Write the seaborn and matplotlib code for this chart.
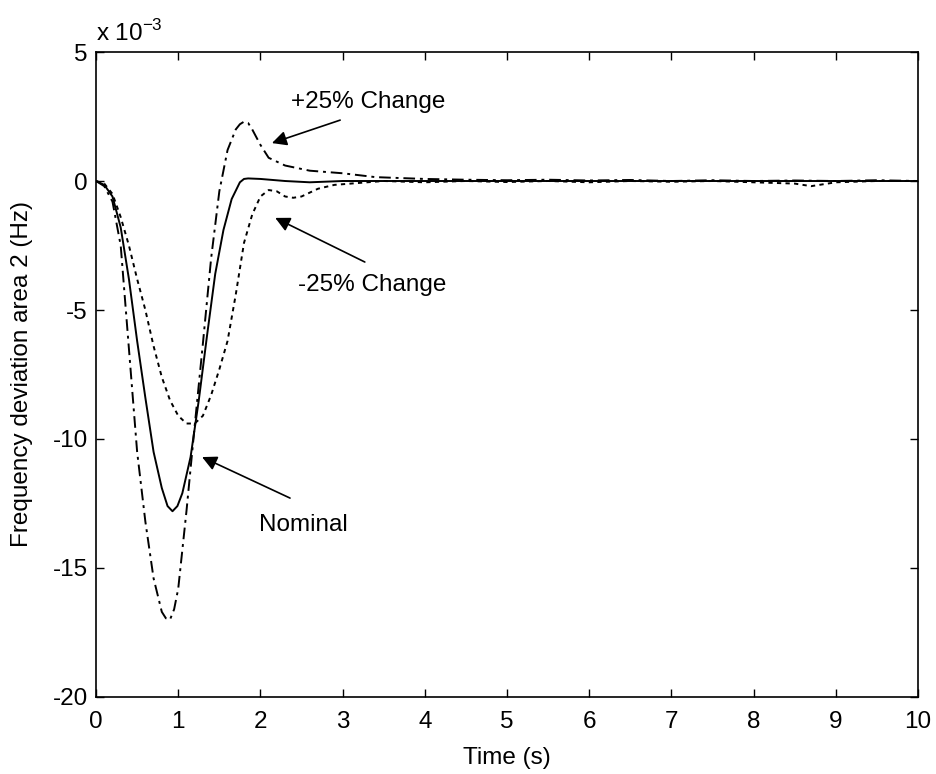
import matplotlib
matplotlib.use("Agg")
import matplotlib.pyplot as plt
from matplotlib.ticker import FuncFormatter
import seaborn as sns

# Time axis (s) and frequency deviation of area 2 (in units of 1e-3 Hz)
t_nominal = [0, 0.1, 0.2, 0.3, 0.4, 0.5, 0.6, 0.7, 0.8, 0.87, 0.93, 0.99, 1.05,
             1.15, 1.25, 1.35, 1.45, 1.55, 1.65, 1.75, 1.8, 1.85, 2.0, 2.3, 2.6,
             3.0, 3.5, 4.0, 5.0, 6.0, 7.0, 8.0, 9.0, 10.0]
y_nominal = [0, -0.15, -0.6, -1.8, -3.8, -6.2, -8.4, -10.5, -11.9, -12.6, -12.8,
             -12.6, -12.1, -10.7, -8.5, -6.0, -3.6, -1.9, -0.7, -0.05, 0.08, 0.1,
             0.08, 0.0, -0.05, 0.0, 0.0, 0.0, 0.0, 0.0, 0.0, 0.0, 0.0, 0.0]

t_plus25 = [0, 0.1, 0.2, 0.3, 0.4, 0.5, 0.6, 0.7, 0.8, 0.85, 0.9, 0.95, 1.0, 1.1,
            1.2, 1.3, 1.4, 1.5, 1.6, 1.7, 1.75, 1.8, 1.85, 1.9, 2.0, 2.1, 2.3,
            2.6, 3.0, 3.4, 4.0, 4.5, 5.0, 5.5, 6.0, 6.5, 7.0, 7.5, 8.0, 8.5,
            9.0, 9.5, 10.0]
y_plus25 = [0, -0.2, -0.8, -2.5, -6.5, -10.5, -13.2, -15.4, -16.7, -16.95, -17.0,
            -16.6, -15.8, -12.8, -9.5, -6.3, -3.0, -0.4, 1.2, 2.0, 2.2, 2.3, 2.25,
            2.0, 1.4, 0.9, 0.6, 0.4, 0.3, 0.15, 0.08, 0.05, 0.03, 0.05, 0.02,
            0.04, 0.0, 0.03, 0.0, 0.02, 0.0, 0.03, 0.0]

t_minus25 = [0, 0.1, 0.2, 0.3, 0.4, 0.5, 0.6, 0.7, 0.8, 0.9, 1.0, 1.1, 1.2, 1.3,
             1.4, 1.5, 1.6, 1.7, 1.8, 1.9, 2.0, 2.1, 2.2, 2.3, 2.4, 2.5, 2.7,
             2.9, 3.1, 3.5, 4.0, 4.5, 5.0, 5.5, 6.0, 6.5, 7.0, 7.5, 8.0, 8.5,
             8.7, 9.0, 9.5, 10.0]
y_minus25 = [0, -0.1, -0.5, -1.4, -2.5, -3.8, -5.0, -6.4, -7.6, -8.5, -9.1, -9.4,
             -9.4, -9.1, -8.3, -7.3, -6.2, -4.4, -2.4, -1.3, -0.6, -0.35, -0.4,
             -0.6, -0.65, -0.6, -0.3, -0.15, -0.1, 0.0, -0.05, 0.0, -0.04, 0.0,
             -0.05, 0.0, -0.03, 0.0, -0.05, -0.1, -0.2, -0.05, 0.0, 0.0]

x_ticks = [0, 1, 2, 3, 4, 5, 6, 7, 8, 9, 10]
y_ticks = [5, 0, -5, -10, -15, -20]

scale = 1e-3  # values above are in mHz

sns.set_theme(style="ticks")
plt.rcParams["font.family"] = ["Liberation Sans", "DejaVu Sans"]
plt.rcParams["mathtext.fontset"] = "custom"
plt.rcParams["mathtext.rm"] = "Liberation Sans"
plt.rcParams["text.color"] = "black"
plt.rcParams["axes.labelcolor"] = "black"

fig = plt.figure(figsize=(9.37, 7.74), dpi=100)
ax = fig.add_axes([0.1025, 0.0995, 0.8772, 0.8333])

lw = 1.4
sns.lineplot(x=t_nominal, y=[v * scale for v in y_nominal], ax=ax,
             color="black", lw=lw, linestyle="-")
sns.lineplot(x=t_plus25, y=[v * scale for v in y_plus25], ax=ax,
             color="black", lw=lw, linestyle=(0, (6, 2.5, 1.5, 2.5)))
sns.lineplot(x=t_minus25, y=[v * scale for v in y_minus25], ax=ax,
             color="black", lw=lw, linestyle=(0, (2.2, 2.2)))

ax.set_xlim(0, 10)
ax.set_ylim(-20 * scale, 5 * scale)
ax.set_xticks(x_ticks)
ax.set_yticks([v * scale for v in y_ticks])
ax.yaxis.set_major_formatter(FuncFormatter(lambda v, p: f"{v / scale:g}"))
ax.xaxis.set_major_formatter(FuncFormatter(lambda v, p: f"{v:g}"))

fs = 17.5
ax.tick_params(direction="in", length=6, width=1.0, top=True, right=True,
               labelsize=fs, colors="black")
ax.tick_params(axis="x", pad=10)
ax.tick_params(axis="y", pad=6)
for s in ax.spines.values():
    s.set_linewidth(1.2)
    s.set_color("black")

ax.set_xlabel("Time (s)", fontsize=fs, labelpad=10)
ax.set_ylabel("Frequency deviation area 2 (Hz)", fontsize=fs, labelpad=14)

# Exponent label above the y axis
ax.text(0.0, 1.01, r"x 10$^{\mathregular{-3}}$", transform=ax.transAxes,
        fontsize=fs, ha="left", va="bottom")

arrow = dict(arrowstyle="-|>", color="black", lw=1.2, mutation_scale=22,
             shrinkA=0, shrinkB=0)
ax.annotate("", xy=(2.14, 1.47 * scale), xytext=(2.97, 2.36 * scale),
            arrowprops=arrow)
ax.text(3.31, 3.06 * scale, "+25% Change", fontsize=fs, ha="center", va="center")

ax.annotate("", xy=(2.18, -1.43 * scale), xytext=(3.27, -3.14 * scale),
            arrowprops=arrow)
ax.text(3.36, -4.03 * scale, "-25% Change", fontsize=fs, ha="center", va="center")

ax.annotate("", xy=(1.29, -10.70 * scale), xytext=(2.36, -12.29 * scale),
            arrowprops=arrow)
ax.text(2.52, -13.33 * scale, "Nominal", fontsize=fs, ha="center", va="center")

fig.savefig("out.png", dpi=100)
